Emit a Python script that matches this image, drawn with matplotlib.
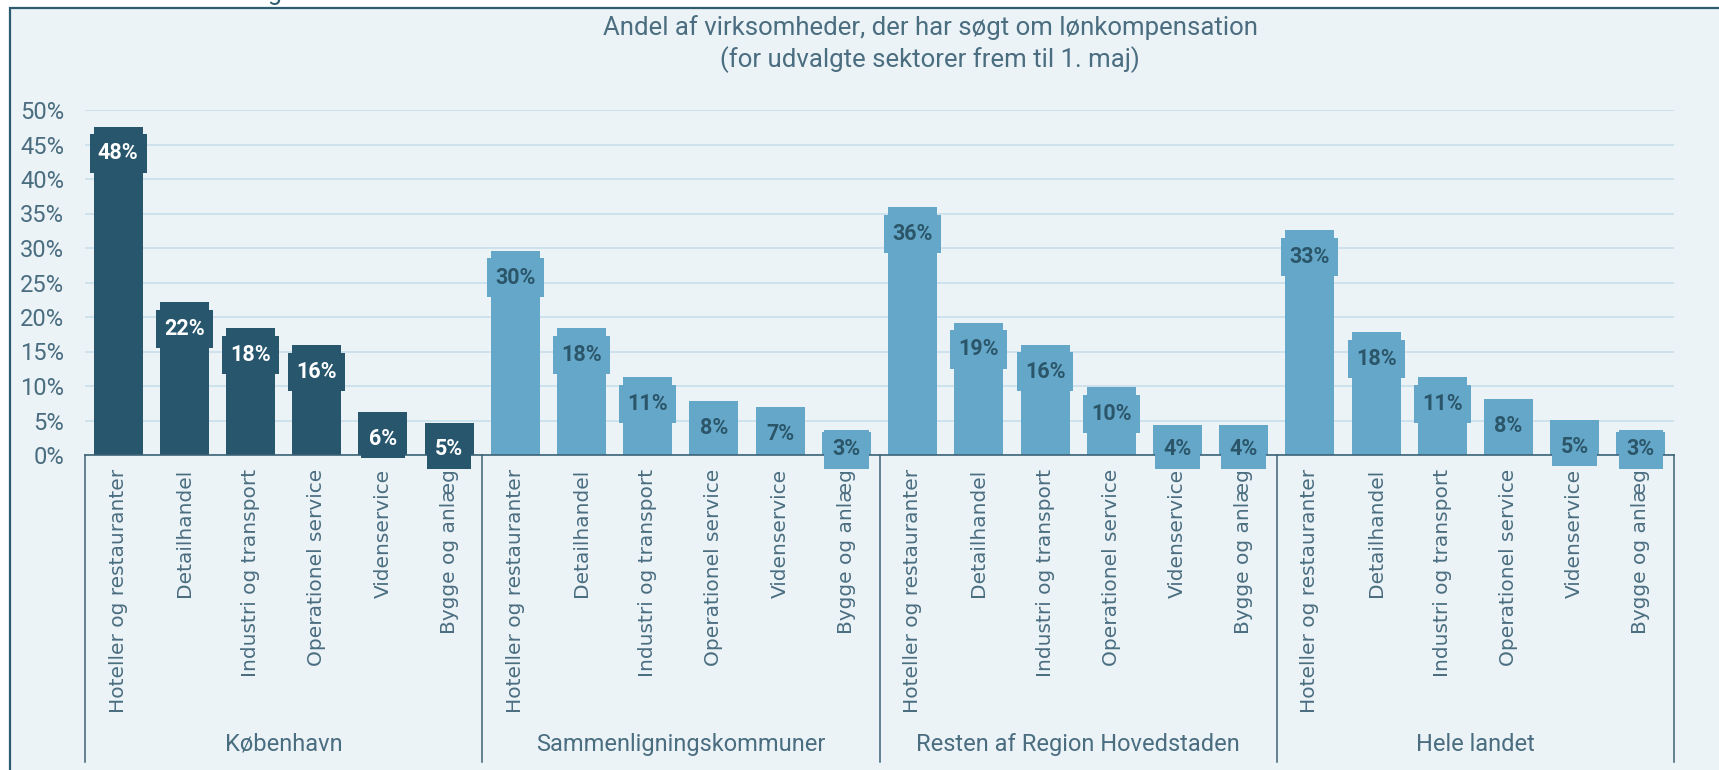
import numpy as np
import matplotlib.pyplot as plt
from matplotlib.patches import Rectangle


regions = ['København', 'Sammenligningskommuner', 'Resten af Region Hovedstaden', 'Hele landet']
sectors = ['Hoteller og restauranter', 'Detailhandel', 'Industri og transport',
           'Operationel service', 'Videnservice', 'Bygge og anlæg']

kbh = [47.6, 22.2, 18.4, 15.9, 6.2, 4.6]
sammen = [29.6, 18.4, 11.3, 7.8, 7.0, 3.3]
resten = [35.9, 19.2, 16.0, 9.8, 4.3, 4.4]
hele = [32.6, 17.8, 11.3, 8.1, 5.1, 3.4]

yticks = [0, 5, 10, 15, 20, 25, 30, 35, 40, 45, 50]

title1 = 'Andel af virksomheder, der har søgt om lønkompensation'
title2 = '(for udvalgte sektorer frem til 1. maj)'

bg = '#ebf3f7'
border = '#2d5c70'
dark = '#27566d'
light = '#65a7c9'
txt = '#4a6d80'
axcol = '#3c6376'
gridcol = '#c8dfea'

W, H = 1719, 770
fig = plt.figure(figsize=(W / 100, H / 100), dpi=100)
fig.patch.set_facecolor('white')
fig.patches.append(Rectangle((9.5 / W, -0.05), 1.1, 1.05 - 8.3 / H, transform=fig.transFigure,
                             facecolor=bg, edgecolor=border, lw=1.6, zorder=-1))
fig.text(275 / W, 1.0, 'g', ha='center', va='baseline', fontsize=18, color=border, family='Roboto')

ax = fig.add_axes([85 / W, 1 - 455 / H, (1674 - 85) / W, 345 / H])
ax.patch.set_visible(False)

series = [kbh, sammen, resten, hele]
for i, vals in enumerate(series):
    col = dark if i == 0 else light
    tc = 'white' if i == 0 else '#2b5669'
    x = np.arange(6) + 6 * i
    ax.bar(x, vals, width=0.74, color=col, zorder=2)
    for xi, v in zip(x, vals):
        ax.text(xi, max(v - 3.9, 0.8), f'{round(v)}%', ha='center', va='center',
                fontsize=15.5, fontweight='bold', family='Roboto', color=tc, zorder=3,
                bbox=dict(boxstyle='square,pad=0.38', fc=col, ec='none'))

ax.set_xlim(-0.5, 23.5)
ax.set_ylim(0, 50)
ax.set_yticks(yticks)
ax.set_yticklabels([f'{t}%' for t in yticks], family='Roboto', fontsize=17, color=txt)
ax.set_xticks(range(24))
ax.set_xticklabels(sectors * 4, rotation=90, family='DejaVu Sans', fontsize=14.5, color=txt)
ax.tick_params(axis='both', length=0)
ax.tick_params(axis='y', pad=15)
ax.tick_params(axis='x', pad=10)

ax.yaxis.grid(True, color=gridcol, lw=1.2)
ax.set_axisbelow(True)
for s in ['top', 'right', 'left']:
    ax.spines[s].set_visible(False)
ax.spines['bottom'].set_color(axcol)
ax.spines['bottom'].set_linewidth(1.2)

trans = ax.get_xaxis_transform()
for b in [-0.5, 5.5, 11.5, 17.5, 23.5]:
    ax.plot([b, b], [0, -0.89], transform=trans, color=axcol, lw=1.1, clip_on=False)
for i, r in enumerate(regions):
    ax.text(6 * i + 2.5, -0.838, r, transform=trans, ha='center', va='center',
            family='Roboto', fontsize=17, color=txt)

fig.text(930 / W, 1 - 28 / H, title1, ha='center', va='center', family='Roboto',
         fontsize=18.5, color=txt)
fig.text(930 / W, 1 - 60 / H, title2, ha='center', va='center', family='Roboto',
         fontsize=18.5, color=txt)

plt.savefig('out.png', dpi=100, facecolor=fig.get_facecolor())
